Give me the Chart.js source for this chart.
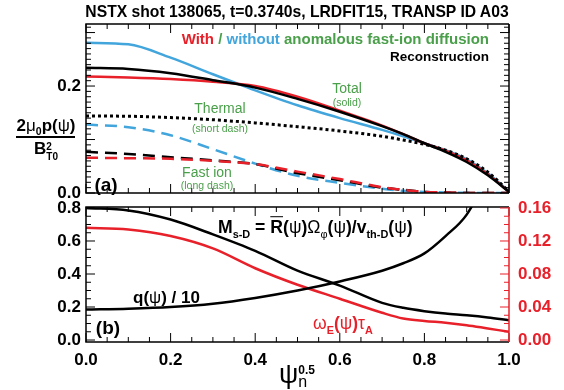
<!DOCTYPE html>
<html>
<head>
<meta charset="utf-8">
<script src="https://cdn.jsdelivr.net/npm/chart.js@4.4.1/dist/chart.umd.min.js"></script>
<style>
body { margin: 0; background: #fff; }
#wrap { position: relative; width: 564px; height: 390px; font-family: "Liberation Sans", Arial, sans-serif; color: #000; }
canvas { position: absolute; left: 0; top: 0; }
.t { position: absolute; white-space: nowrap; line-height: 1; transform: translate(-50%, -50%); }
.r { transform: translate(-100%, -50%); }
.l { transform: translate(0, -50%); }
.b { font-weight: bold; }
.g { font-weight: normal; }
.red { color: #e8202a; }
.blue { color: #42a5dc; }
.green { color: #4a9f4a; }
sub, sup { font-size: 62%; line-height: 0; }
.ss { display: inline-block; vertical-align: -6px; font-size: 10px; line-height: 10px; text-align: left; }
.ss span { display: block; }
</style>
</head>
<body>
<div id="wrap">
  <canvas id="topChart" width="564" height="390"></canvas>
  <canvas id="botChart" width="564" height="390"></canvas>

  <div class="t b" style="left:297px;top:12px;font-size:15.7px">NSTX shot 138065, t=0.3740s, LRDFIT15, TRANSP ID A03</div>
  <div class="t b r" style="left:489px;top:38px;font-size:15px"><span class="red">With</span> <span class="green">/</span> <span class="blue">without</span> <span class="green">anomalous fast-ion diffusion</span></div>
  <div class="t b r" style="left:489px;top:57px;font-size:13.5px">Reconstruction</div>

  <div class="t b" style="left:46px;top:125px;font-size:17px">2<span class="g">μ</span><sub>0</sub>p(<span class="g">ψ</span>)</div>
  <div style="position:absolute;left:16px;top:136px;width:59px;height:2px;background:#000"></div>
  <div class="t b" style="left:46px;top:151px;font-size:17px">B<span class="ss"><span>2</span><span>T0</span></span></div>

  <div class="t b" style="left:106px;top:184px;font-size:19px">(a)</div>
  <div class="t b" style="left:108px;top:327px;font-size:19px">(b)</div>

  <div class="t green" style="left:347px;top:88px;font-size:14px">Total</div>
  <div class="t green" style="left:347px;top:102px;font-size:10.5px">(solid)</div>
  <div class="t green" style="left:220px;top:108px;font-size:14px">Thermal</div>
  <div class="t green" style="left:220px;top:128px;font-size:10.5px">(short dash)</div>
  <div class="t green" style="left:207px;top:172px;font-size:14px">Fast ion</div>
  <div class="t green" style="left:207px;top:185px;font-size:10.5px">(long dash)</div>

  <div class="t b l" style="left:218px;top:228px;font-size:17.6px">M<sub>s-D</sub> = <span style="text-decoration:overline">R</span>(<span class="g">ψ</span>)<span class="g">Ω</span><sub class="g">φ</sub>(<span class="g">ψ</span>)/v<sub>th-D</sub>(<span class="g">ψ</span>)</div>
  <div class="t b l" style="left:133px;top:297px;font-size:17px">q(<span class="g">ψ</span>) / 10</div>
  <div class="t b l red" style="left:313px;top:324px;font-size:17.5px"><span class="g">ω</span><sub>E</sub>(<span class="g">ψ</span>)<span class="g">τ</span><sub>A</sub></div>

  <div class="t l" style="left:279px;top:374px;font-size:27px">ψ<span class="ss b" style="font-size:12px;line-height:12px;vertical-align:-4px"><span>0.5</span><span style="font-weight:normal;font-size:16px">n</span></span></div>
</div>

<script>
// x coordinate: psi_n^0.5
const psi = [0, 0.1, 0.2, 0.3, 0.4, 0.5, 0.6, 0.7, 0.75, 0.8, 0.85, 0.9, 0.95, 1.0];

// panel (a): 2 mu0 p / B^2
const totalRecon   = [0.234, 0.232, 0.224, 0.211, 0.197, 0.176, 0.152, 0.125, 0.110, 0.093, 0.077, 0.058, 0.033, 0.002];
const totalWith    = [0.218, 0.216, 0.213, 0.208, 0.200, 0.180, 0.154, 0.126, 0.110, 0.093, 0.079, 0.061, 0.035, 0.002];
const totalWithout = [0.281, 0.278, 0.253, 0.222, 0.192, 0.164, 0.140, 0.118, 0.106, 0.093, 0.080, 0.063, 0.037, 0.003];
const thermal      = [0.144, 0.1435, 0.141, 0.137, 0.131, 0.124, 0.116, 0.106, 0.099, 0.091, 0.080, 0.064, 0.039, 0.003];
const fastRecon    = [0.077, 0.073, 0.067, 0.061, 0.054, 0.037, 0.024, 0.010, 0.006, 0.002, 0.001, 0, 0, 0];
const fastWith     = [0.066, 0.065, 0.064, 0.060, 0.054, 0.040, 0.026, 0.011, 0.006, 0.002, 0.001, 0, 0, 0];
const fastWithout  = [0.128, 0.123, 0.108, 0.082, 0.055, 0.032, 0.019, 0.008, 0.004, 0.002, 0.001, 0.0005, 0, 0];

// panel (b)
const machSD = [0.800, 0.785, 0.730, 0.640, 0.540, 0.420, 0.330, 0.225, 0.195, 0.175, 0.160, 0.150, 0.137, 0.120];
const qOver10 = [0.185, 0.190, 0.200, 0.220, 0.255, 0.300, 0.355, 0.420, 0.465, 0.525, 0.630, 0.760, 1.000, 1.300];
const omegaTau = [0.136, 0.134, 0.126, 0.111, 0.087, 0.067, 0.050, 0.033, 0.026, 0.023, 0.021, 0.018, 0.014, 0.010];

// ticks
const xTickVals = [0, 0.2, 0.4, 0.6, 0.8, 1.0];
const xTickLabels = ['0.0', '0.2', '0.4', '0.6', '0.8', '1.0'];
const topYTickVals = [0, 0.2];
const topYTickLabels = ['0.0', '0.2'];
const botYTickVals = [0, 0.2, 0.4, 0.6, 0.8];
const botYTickLabels = ['0.0', '0.2', '0.4', '0.6', '0.8'];
const rightTickVals = [0, 0.04, 0.08, 0.12, 0.16];
const rightTickLabels = ['0.00', '0.04', '0.08', '0.12', '0.16'];

const RED = '#e8202a';
const BLUE = '#42a5dc';
const BLACK = '#000';

function pts(arr) {
    return psi.map((x, i) => ({ x: x, y: arr[i] }));
}

function steps(from, to, step) {
    let out = [];
    for (let v = from; v <= to + 1e-9; v += step) out.push(+v.toFixed(4));
    return out;
}

// box + inward ticks, IDL style
const frame = {
    id: 'frame',
    afterDraw(chart, args, o) {
        const ctx = chart.ctx;
        const a = chart.chartArea;
        const sx = chart.scales.x;
        const sy = chart.scales.y;
        ctx.save();
        ctx.lineWidth = 1.5;
        ctx.strokeStyle = BLACK;
        ctx.beginPath();
        ctx.moveTo(a.right, a.top);
        ctx.lineTo(a.left, a.top);
        ctx.lineTo(a.left, a.bottom);
        ctx.lineTo(a.right, a.bottom);
        ctx.stroke();

        ctx.lineWidth = 1;
        ctx.beginPath();
        steps(0, 1, 0.05).forEach((v) => {
            const px = sx.getPixelForValue(v);
            const len = xTickVals.some((t) => Math.abs(t - v) < 1e-6) ? 9 : 5;
            ctx.moveTo(px, a.bottom);
            ctx.lineTo(px, a.bottom - len);
            ctx.moveTo(px, a.top);
            ctx.lineTo(px, a.top + len);
        });
        steps(o.yMin, o.yMax, o.yMinor).forEach((v) => {
            const py = sy.getPixelForValue(v);
            if (py < a.top - 0.5 || py > a.bottom + 0.5) return;
            const major = Math.abs(v / o.yMajor - Math.round(v / o.yMajor)) < 1e-6;
            const len = major ? 9 : 5;
            ctx.moveTo(a.left, py);
            ctx.lineTo(a.left + len, py);
            if (!o.right) {
                ctx.moveTo(a.right, py);
                ctx.lineTo(a.right - len, py);
            }
        });
        ctx.stroke();

        if (o.right) {
            const sr = chart.scales[o.right];
            ctx.strokeStyle = RED;
            ctx.beginPath();
            steps(0, 0.16, 0.01).forEach((v) => {
                const py = sr.getPixelForValue(v);
                const major = rightTickVals.some((t) => Math.abs(t - v) < 1e-6);
                ctx.moveTo(a.right, py);
                ctx.lineTo(a.right - (major ? 9 : 5), py);
            });
            ctx.stroke();
        }
        ctx.lineWidth = 1.5;
        ctx.strokeStyle = o.right ? RED : BLACK;
        ctx.beginPath();
        ctx.moveTo(a.right, a.top);
        ctx.lineTo(a.right, a.bottom);
        ctx.stroke();
        ctx.restore();
    }
};

const tickFont = { family: '"Liberation Sans", Arial, sans-serif', size: 17, weight: 'bold' };

function fixedTicks(vals, labels) {
    return {
        afterBuildTicks: (scale) => {
            scale.ticks = vals.map((v) => ({ value: v }));
        },
        callback: (value) => {
            const i = vals.findIndex((v) => Math.abs(v - value) < 1e-9);
            return i >= 0 ? labels[i] : '';
        }
    };
}

function line(data, color, dash, width) {
    return {
        data: pts(data),
        borderColor: color,
        borderWidth: width || 2.5,
        borderDash: dash || [],
        pointRadius: 0,
        fill: false,
        cubicInterpolationMode: 'monotone'
    };
}

const common = {
    responsive: false,
    animation: false,
    devicePixelRatio: 1,
    plugins: { legend: { display: false }, tooltip: { enabled: false } }
};

const topYT = fixedTicks(topYTickVals, topYTickLabels);
new Chart(document.getElementById('topChart').getContext('2d'), {
    type: 'line',
    data: {
        datasets: [
            line(thermal, BLACK, [3, 3], 3),
            line(totalRecon, BLACK),
            line(totalWith, RED),
            line(totalWithout, BLUE),
            line(fastWith, RED, [12, 7]),
            line(fastRecon, BLACK, [12, 7]),
            line(fastWithout, BLUE, [12, 7])
        ]
    },
    options: {
        ...common,
        layout: { padding: { left: 0, right: 55, top: 24, bottom: 197 } },
        scales: {
            x: { type: 'linear', min: 0, max: 1, display: false },
            y: {
                type: 'linear', min: 0, max: 0.316,
                afterFit: (s) => { s.width = 86; },
                afterBuildTicks: topYT.afterBuildTicks,
                grid: { display: false, drawTicks: false },
                border: { display: false },
                ticks: { callback: topYT.callback, font: tickFont, color: BLACK, padding: 5, autoSkip: false }
            }
        },
        plugins: { ...common.plugins, frame: { yMin: 0, yMax: 0.32, yMinor: 0.01, yMajor: 0.1 } }
    },
    plugins: [frame]
});

const xT = fixedTicks(xTickVals, xTickLabels);
const botYT = fixedTicks(botYTickVals, botYTickLabels);
const rT = fixedTicks(rightTickVals, rightTickLabels);
new Chart(document.getElementById('botChart').getContext('2d'), {
    type: 'line',
    data: {
        datasets: [
            line(machSD, BLACK),
            line(qOver10, BLACK),
            Object.assign(line(omegaTau, RED), { yAxisID: 'y2' })
        ]
    },
    options: {
        ...common,
        layout: { padding: { left: 0, right: 0, top: 207, bottom: 0 } },
        scales: {
            x: {
                type: 'linear', min: 0, max: 1,
                afterFit: (s) => { s.height = 48; },
                afterBuildTicks: xT.afterBuildTicks,
                grid: { display: false, drawTicks: false },
                border: { display: false },
                ticks: { callback: xT.callback, font: tickFont, color: BLACK, padding: 8, autoSkip: false, maxRotation: 0 }
            },
            y: {
                type: 'linear', min: -0.012, max: 0.806,
                afterFit: (s) => { s.width = 86; },
                afterBuildTicks: botYT.afterBuildTicks,
                grid: { display: false, drawTicks: false },
                border: { display: false },
                ticks: { callback: botYT.callback, font: tickFont, color: BLACK, padding: 5, autoSkip: false }
            },
            y2: {
                type: 'linear', position: 'right', min: -0.0024, max: 0.1612,
                afterFit: (s) => { s.width = 55; },
                afterBuildTicks: rT.afterBuildTicks,
                grid: { display: false, drawTicks: false },
                border: { display: false },
                ticks: { callback: rT.callback, font: tickFont, color: RED, padding: 9, autoSkip: false }
            }
        },
        plugins: { ...common.plugins, frame: { yMin: 0, yMax: 0.8, yMinor: 0.05, yMajor: 0.2, right: 'y2' } }
    },
    plugins: [frame]
});
</script>
</body>
</html>
